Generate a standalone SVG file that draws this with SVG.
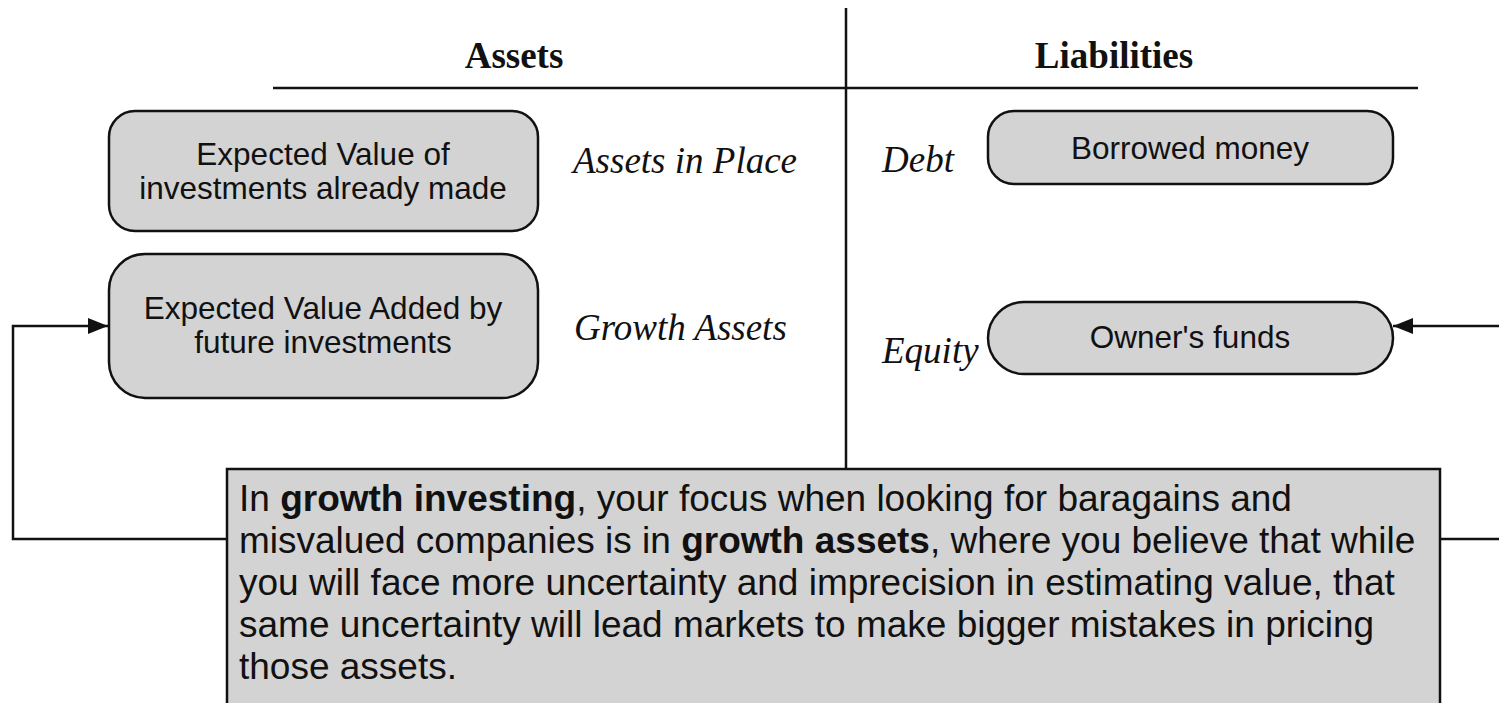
<svg xmlns="http://www.w3.org/2000/svg" width="1499" height="703" viewBox="0 0 1499 703">
<style>
.box{fill:#d3d3d3;stroke:#111;stroke-width:2.5}
.bt{font-family:"Liberation Sans",Arial,sans-serif;font-size:31.5px;fill:#111;text-anchor:middle}
.hd{font-family:"Liberation Serif","Times New Roman",serif;font-size:37px;font-weight:bold;fill:#111;text-anchor:middle}
.it{font-family:"Liberation Serif","Times New Roman",serif;font-size:37px;font-style:italic;fill:#111}
.ln{stroke:#111;stroke-width:2.5;fill:none}
.nt{font-family:"Liberation Sans",Arial,sans-serif;font-size:37px;fill:#111}
</style>
<defs>
<marker id="ah" markerWidth="20" markerHeight="16" refX="20" refY="8" orient="auto" markerUnits="userSpaceOnUse">
<path d="M0,0 L20,8 L0,16 Z" fill="#111"/>
</marker>
</defs>
<rect width="1499" height="703" fill="#fff"/>
<g id="frame">
<line class="ln" x1="846" y1="8" x2="846" y2="469"/>
<line class="ln" x1="273" y1="88" x2="1418" y2="88"/>
<text class="hd" x="514" y="68">Assets</text>
<text class="hd" x="1114" y="68">Liabilities</text>
<text class="it" x="573" y="173">Assets in Place</text>
<text class="it" x="574" y="340">Growth Assets</text>
<text class="it" x="882" y="172">Debt</text>
<text class="it" x="882" y="363">Equity</text>
</g>
<g id="connectors">
<polyline class="ln" points="227,539 13,539 13,326 108,326" marker-end="url(#ah)"/>
<polyline class="ln" points="1440,539 1499,539"/>
<line class="ln" x1="1499" y1="326" x2="1393" y2="326" marker-end="url(#ah)"/>
</g>
<g id="n1">
<rect class="box" x="109" y="111" width="429" height="120" rx="26"/>
<text class="bt" x="323" y="165">Expected Value of</text>
<text class="bt" x="323" y="199">investments already made</text>
</g>
<g id="n2">
<rect class="box" x="109" y="254" width="429" height="144" rx="36"/>
<text class="bt" x="323" y="319">Expected Value Added by</text>
<text class="bt" x="323" y="353">future investments</text>
</g>
<g id="n3">
<rect class="box" x="988" y="111" width="405" height="73" rx="26"/>
<text class="bt" x="1190" y="159">Borrowed money</text>
</g>
<g id="n4">
<rect class="box" x="988" y="302" width="405" height="72" rx="36"/>
<text class="bt" x="1190" y="348">Owner's funds</text>
</g>
<g id="note">
<rect class="box" x="227" y="469" width="1213" height="250"/>
<text class="nt" x="239" y="511">In <tspan font-weight="bold">growth investing</tspan>, your focus when looking for baragains and</text>
<text class="nt" x="239" y="553">misvalued companies is in <tspan font-weight="bold">growth assets</tspan>, where you believe that while</text>
<text class="nt" x="239" y="595">you will face more uncertainty and imprecision in estimating value, that</text>
<text class="nt" x="239" y="637">same uncertainty will lead markets to make bigger mistakes in pricing</text>
<text class="nt" x="239" y="679">those assets.</text>
</g>
</svg>
